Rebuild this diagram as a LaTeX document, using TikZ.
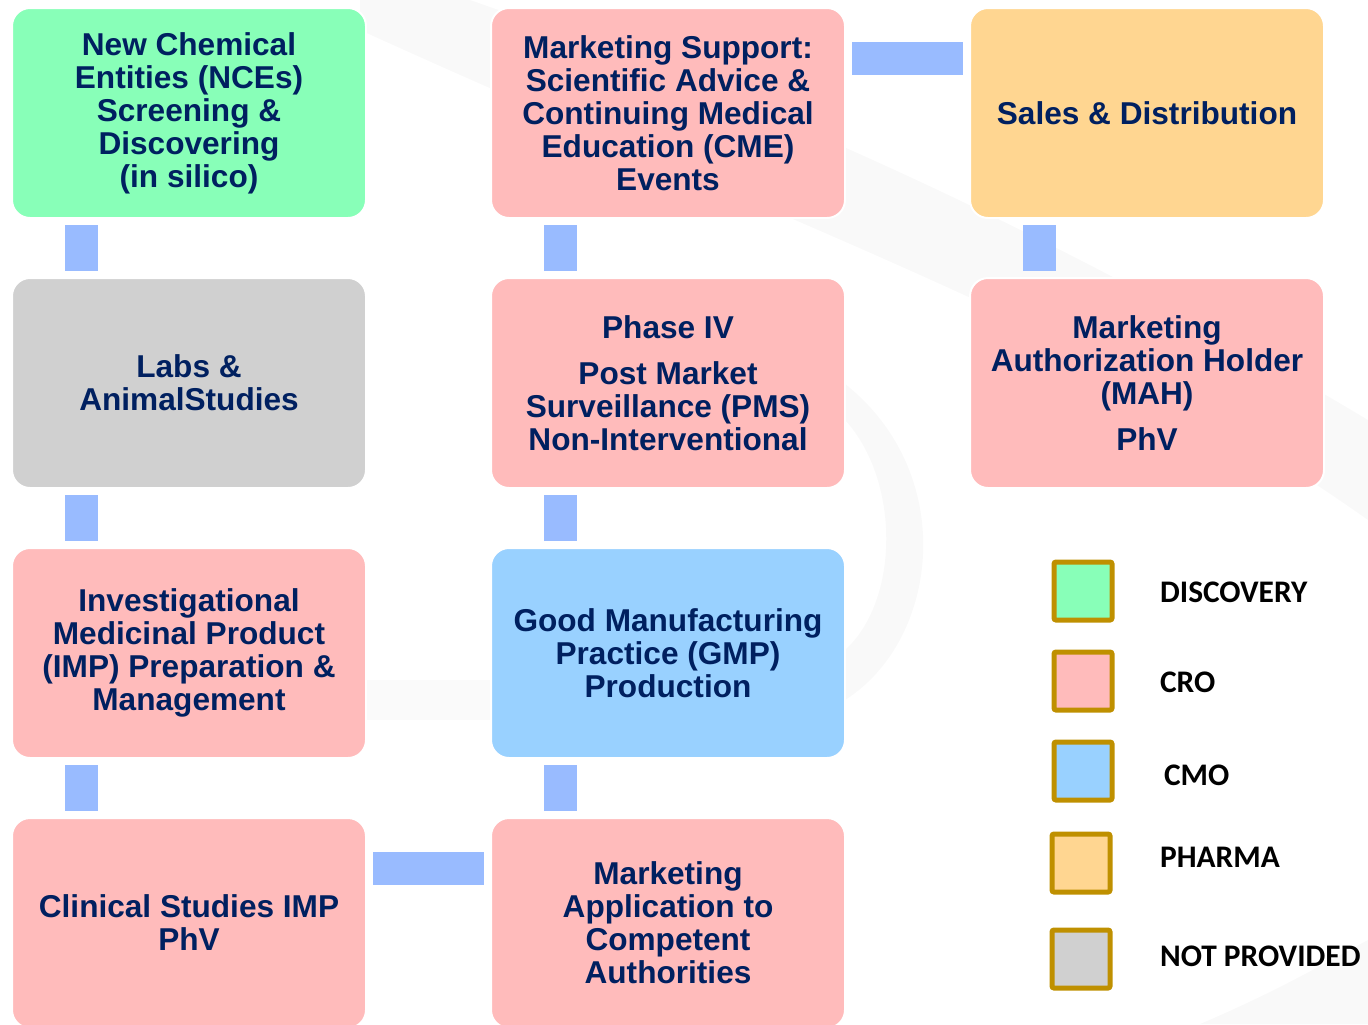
\documentclass[tikz,border=0pt]{standalone}
\usepackage{fontspec}
\setmainfont{Liberation Sans}
\newfontfamily\legfont{Carlito}
\usepackage{tikz}

\definecolor{navy}{HTML}{002060}
\definecolor{discov}{HTML}{88FFB8}
\definecolor{cro}{HTML}{FFBBBB}
\definecolor{cmo}{HTML}{99D1FF}
\definecolor{pharma}{HTML}{FFD691}
\definecolor{notprov}{HTML}{D0D0D0}
\definecolor{barblue}{HTML}{99BBFF}
\definecolor{gold}{HTML}{BF9000}

\tikzset{
	box/.style={rounded corners=9pt, minimum width=177pt, minimum height=105pt,
		align=center, text=navy, draw=white, line width=1pt,
		font=\bfseries\fontsize{15.8}{16.5}\selectfont},
	link/.style={draw=barblue, line width=16.5pt},
	key/.style={draw=gold, line width=2.5pt, minimum size=29pt, inner sep=0pt, rounded corners=1pt},
	keytext/.style={anchor=west, font=\legfont\bfseries\fontsize{15.7}{18}\selectfont}
}

\begin{document}
\begin{tikzpicture}[x=0.5pt,y=-0.5pt]
		\useasboundingbox (0,0) rectangle (1368,1024);
		\clip (0,0) rectangle (1368,1024);
		% faint swoosh behind the boxes
		\fill[gray!5] (360,0)--(470,0) .. controls (700,80) and (1000,200) .. (1368,420)
			--(1368,520) .. controls (1100,330) and (800,230) .. (360,30)--cycle;
		\fill[gray!5] (840,380) .. controls (960,470) and (940,640) .. (845,700)
			--(845,650) .. controls (900,600) and (900,480) .. (845,420)--cycle;
		\fill[gray!4] (366,680) rectangle (491,720);
		\fill[gray!5] (1200,1024) .. controls (1280,990) and (1330,960) .. (1368,940)--(1368,1024)--cycle;

		% first column
		\node[box, fill=discov] (nce) at (189,113) {New Chemical\\Entities (NCEs)\\Screening \&\\Discovering\\(in silico)};
		\node[box, fill=notprov] (labs) at (189,383) {Labs \&\\AnimalStudies};
		\node[box, fill=cro] (imp) at (189,653) {Investigational\\Medicinal Product\\(IMP) Preparation \&\\Management};
		\node[box, fill=cro] (clin) at (189,923) {Clinical Studies IMP\\PhV};
		% second column
		\node[box, fill=cro] (mktsup) at (668,113) {Marketing Support:\\Scientific Advice \&\\Continuing Medical\\Education (CME)\\Events};
		\node[box, fill=cro] (phase) at (668,383) {Phase IV\\[6.5pt]Post Market\\Surveillance (PMS)\\Non-Interventional};
		\node[box, fill=cmo] (gmp) at (668,653) {Good Manufacturing\\Practice (GMP)\\Production};
		\node[box, fill=cro] (mktapp) at (668,923) {Marketing\\Application to\\Competent\\Authorities};
		% third column
		\node[box, fill=pharma] (sales) at (1147,113) {Sales \& Distribution};
		\node[box, fill=cro] (mah) at (1147,383) {Marketing\\Authorization Holder\\(MAH)\\[6.5pt]PhV};

		% connecting bars
		\draw[link] ([shift={(-107.5,6)}]nce.south)--([shift={(-107.5,-6)}]labs.north);
		\draw[link] ([shift={(-107.5,6)}]labs.south)--([shift={(-107.5,-6)}]imp.north);
		\draw[link] ([shift={(-107.5,6)}]imp.south)--([shift={(-107.5,-6)}]clin.north);
		\draw[link] ([shift={(6,-55)}]clin.east)--([shift={(-6,-55)}]mktapp.west);
		\draw[link] ([shift={(-107.5,-6)}]mktapp.north)--([shift={(-107.5,6)}]gmp.south);
		\draw[link] ([shift={(-107.5,-6)}]gmp.north)--([shift={(-107.5,6)}]phase.south);
		\draw[link] ([shift={(-107.5,-6)}]phase.north)--([shift={(-107.5,6)}]mktsup.south);
		\draw[link] ([shift={(6,-55)}]mktsup.east)--([shift={(-6,-55)}]sales.west);
		\draw[link] ([shift={(-107.5,6)}]sales.south)--([shift={(-107.5,-6)}]mah.north);

		% legend
		\node[key, fill=discov] (kdis) at (1083,591) {};
		\node[key, fill=cro] (kcro) at (1083,681) {};
		\node[key, fill=cmo] (kcmo) at (1083,771) {};
		\node[key, fill=pharma] (kpha) at (1081,863) {};
		\node[key, fill=notprov] (knot) at (1081,959) {};
		\node[keytext] (tdis) at (1153,592) {DISCOVERY};
		\node[keytext] (tcro) at (1153,682) {CRO};
		\node[keytext] (tcmo) at (1157,775) {CMO};
		\node[keytext] (tpha) at (1153,857) {PHARMA};
		\node[keytext] (tnot) at (1153,956) {NOT PROVIDED};
	\end{tikzpicture}
\end{document}
